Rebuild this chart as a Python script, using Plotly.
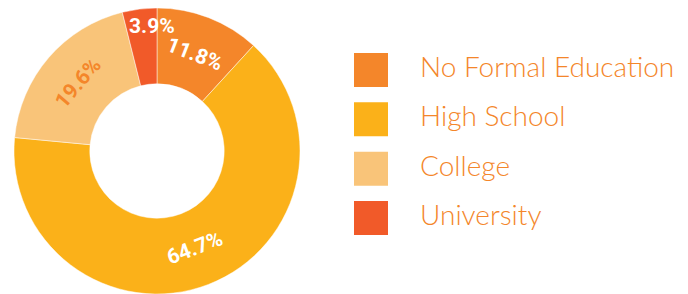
import math
import plotly.graph_objects as go

categories = ["No Formal Education", "High School", "College", "University"]
values = [11.8, 64.7, 19.6, 3.9]
colors = ["#F4862A", "#FBB119", "#F9C479", "#F15A29"]
text_colors = ["white", "white", "#F4862A", "white"]
legend_text_color = "#F4862A"

W, H = 688, 294
OFF = 8  # page body margin offset

# pie geometry (pixels in figure coordinates)
PIE_L, PIE_R = 14 - OFF, 300 - OFF
PIE_T = 0
RAD = (PIE_R - PIE_L) / 2
CX, CY = PIE_L + RAD, PIE_T + RAD
HOLE = 0.47

total = sum(values)

fig = go.Figure()

fig.add_trace(go.Pie(
    labels=categories,
    values=values,
    sort=False,
    direction="clockwise",
    rotation=0,
    hole=HOLE,
    marker=dict(colors=colors, line=dict(color="rgba(255,255,255,0.6)", width=0.8)),
    textinfo="none",
    showlegend=False,
    domain=dict(x=[PIE_L / W, PIE_R / W], y=[1 - (PIE_T + 2 * RAD) / H, 1 - PIE_T / H]),
    hoverinfo="label+percent",
))

# percentage labels placed tangentially at each slice's mid angle
cum = 0.0
for v, tc in zip(values, text_colors):
    share = v / total
    mid = (cum + v / 2) / total * 2 * math.pi
    cum += v
    if share < 0.05:
        # narrow slice: label sits near the outer rim, horizontal
        r = RAD * 0.88
        ang = 0
        px = CX + r * math.sin(mid) * 0.3
    else:
        r = RAD * 0.73
        deg = math.degrees(mid)
        ang = deg - 180 if 90 < deg < 270 else (deg - 360 if deg >= 270 else deg)
        px = CX + r * math.sin(mid)
    py = CY - r * math.cos(mid)
    fig.add_annotation(
        x=px / W, y=1 - py / H, xref="paper", yref="paper",
        text=f"{share * 100:.1f}%", showarrow=False, textangle=ang,
        font=dict(family="Roboto", size=21, color=tc, weight="bold"),
        xanchor="center", yanchor="middle",
    )

idx = list(range(len(categories)))

# custom legend: big squares
fig.add_trace(go.Scatter(
    x=[0] * len(categories), y=idx, mode="markers",
    marker=dict(symbol="square", size=34, color=colors, line=dict(width=0)),
    xaxis="x", yaxis="y", showlegend=False, hoverinfo="skip",
))
fig.add_trace(go.Scatter(
    x=[1] * len(categories), y=idx, mode="text",
    text=categories, textposition="middle right",
    textfont=dict(family="Lato", size=28, color=legend_text_color, weight=300),
    xaxis="x", yaxis="y", showlegend=False, hoverinfo="skip",
))

x0 = 371 - OFF - 344
ux = 49
y0 = 70 - OFF
uy = 49.33
fig.update_layout(
    width=W, height=H,
    margin=dict(l=0, r=0, t=0, b=0),
    paper_bgcolor="white", plot_bgcolor="white",
    xaxis=dict(domain=[0.5, 1], range=[-x0 / ux, (344 - x0) / ux],
               visible=False, fixedrange=True),
    yaxis=dict(domain=[0, 1], range=[(H - y0) / uy, -y0 / uy],
               visible=False, fixedrange=True),
)

fig.write_html("out.html")
